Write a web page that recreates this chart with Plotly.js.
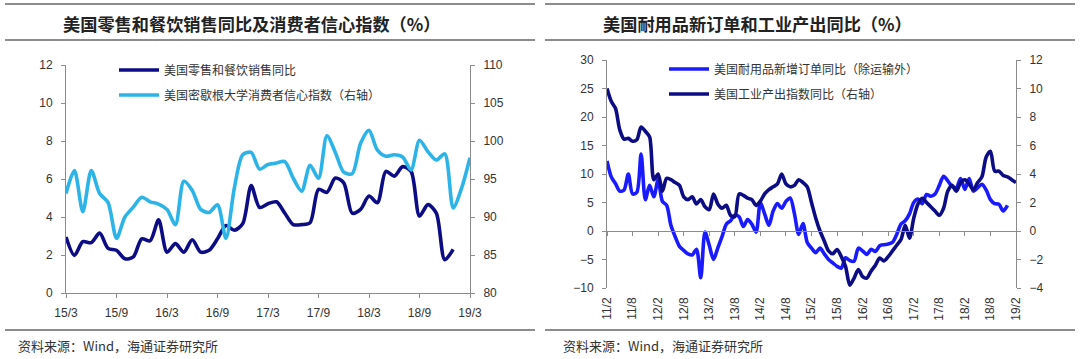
<!DOCTYPE html>
<html><head><meta charset="utf-8">
<script src="https://cdn.plot.ly/plotly-3.0.1.min.js"></script>
<style>html,body{margin:0;padding:0;background:#fff}#chart{width:1080px;height:359px}</style>
</head><body><div id="chart"></div>
<script>
function monthLabels(y, m, n) {
  const out = [];
  for (let i = 0; i < n; i++) {
    out.push(String(y % 100).padStart(2, '0') + '/' + m);
    m++; if (m > 12) { m = 1; y++; }
  }
  return out;
}
// ---- left chart data (monthly, 15/3 .. 19/3) ----
const leftMonths = monthLabels(2015, 3, 49);
const retailSales = [2.95,1.98,2.7,2.65,3.15,2.35,2.25,1.8,1.9,2.85,2.75,3.85,2.15,2.6,2.15,2.8,2.15,2.25,2.85,3.55,3.3,3.65,5.65,4.5,4.7,4.8,4.2,3.6,3.6,3.7,5.45,5.3,6.05,5.8,4.2,4.4,5.1,4.75,6.4,6.15,6.65,6.4,4.05,4.65,4.2,1.75,2.3];
const sentiment = [93.1,96.1,90.7,96.1,93.1,91.9,87.2,90.0,91.3,92.6,92.0,91.7,91.0,89.0,94.7,93.5,91.0,90.6,91.6,87.2,93.8,98.2,98.5,96.3,96.9,97.1,97.3,95.1,93.4,96.8,95.1,100.7,98.5,95.9,95.7,99.7,101.4,98.8,98.0,98.2,97.9,96.2,100.1,98.6,97.5,98.3,91.2,93.8,97.8];
const leftTicks = ['15/3','15/9','16/3','16/9','17/3','17/9','18/3','18/9','19/3'];
const leftNames = ['美国零售和餐饮销售同比','美国密歇根大学消费者信心指数（右轴）'];

// ---- right chart data (monthly, 11/2 .. 19/2) ----
const rightMonths = monthLabels(2011, 2, 97);
const durableOrders = [12.3,9.5,8.3,7.0,7.2,10.0,6.5,6.8,13.5,5.5,8.0,6.0,9.0,5.2,4.5,1.0,-1.0,-2.7,-3.4,-4.0,-4.2,-3.2,-8.2,-0.2,-2.5,-5.0,-3.0,-1.0,1.2,1.8,2.8,2.5,0.8,2.0,1.2,-0.2,5.0,3.0,1.0,3.5,4.8,4.0,5.2,5.8,3.0,-0.6,1.3,-2.0,-3.0,-3.8,-3.0,-4.0,-5.0,-5.6,-6.2,-6.5,-4.7,-5.2,-5.3,-3.0,-3.5,-4.1,-3.2,-3.6,-2.6,-2.4,-2.3,-2.0,-0.6,1.2,1.8,3.0,5.0,5.6,4.8,6.4,6.1,6.5,8.0,9.6,8.8,7.8,7.6,9.2,7.3,9.2,7.0,7.6,8.2,7.2,5.5,4.8,4.7,3.5,4.5];
const industrialOutput = [10.0,9.1,8.6,7.1,6.45,6.5,6.3,6.4,7.3,7.0,6.6,3.6,4.0,2.8,3.7,3.6,3.4,3.2,2.4,2.2,2.4,1.9,2.2,1.7,1.5,2.6,1.9,1.6,1.8,1.1,1.0,2.6,2.5,2.3,2.2,1.8,2.1,2.6,2.9,3.1,3.3,4.0,3.3,3.1,3.2,3.6,3.4,3.1,2.0,0.9,0.0,-0.7,-1.4,-1.6,-1.3,-1.8,-2.5,-3.8,-3.3,-2.7,-3.2,-3.3,-2.8,-2.4,-1.9,-2.1,-1.8,-1.4,-1.0,-0.6,0.4,-0.5,0.9,1.9,2.3,2.0,1.7,1.4,1.1,1.6,2.8,3.2,2.8,3.4,3.6,3.3,2.9,3.4,3.8,5.2,5.6,4.2,4.2,3.9,3.8,3.6,3.4];
const rightTicks = ['11/2','11/8','12/2','12/8','13/2','13/8','14/2','14/8','15/2','15/8','16/2','16/8','17/2','17/8','18/2','18/8','19/2'];
const rightNames = ['美国耐用品新增订单同比（除运输外）','美国工业产出指数同比（右轴）'];

const titles = ['美国零售和餐饮销售同比及消费者信心指数（%）','美国耐用品新订单和工业产出同比（%）'];
const sourceText = '资料来源：Wind，海通证券研究所';

const NAVY = '#0c0c84', SKY = '#2cb3e8', BLUE = '#1a1aff';
const W = 1080, H = 359;
const px = v => v / W, py = v => 1 - v / H;

const traces = [
  {x: leftMonths.slice(0, retailSales.length), y: retailSales, name: leftNames[0], type: 'scatter', mode: 'lines',
   line: {color: NAVY, width: 3.6, shape: 'spline', smoothing: 0.8}, xaxis: 'x', yaxis: 'y', legend: 'legend'},
  {x: leftMonths.slice(0, sentiment.length), y: sentiment, name: leftNames[1], type: 'scatter', mode: 'lines',
   line: {color: SKY, width: 3.6, shape: 'spline', smoothing: 0.8}, xaxis: 'x', yaxis: 'y2', legend: 'legend2'},
  {x: rightMonths.slice(0, durableOrders.length), y: durableOrders, name: rightNames[0], type: 'scatter', mode: 'lines',
   line: {color: BLUE, width: 3.6, shape: 'spline', smoothing: 0.8}, xaxis: 'x3', yaxis: 'y3', legend: 'legend3'},
  {x: rightMonths.slice(0, industrialOutput.length), y: industrialOutput, name: rightNames[1], type: 'scatter', mode: 'lines',
   line: {color: NAVY, width: 3.6, shape: 'spline', smoothing: 0.8}, xaxis: 'x3', yaxis: 'y4', legend: 'legend4'},
  // carrier for the zero-line tick axis
  {x: rightMonths, y: rightMonths.map(() => null), type: 'scatter', mode: 'lines', showlegend: false,
   hoverinfo: 'skip', xaxis: 'x4', yaxis: 'y3'}
];

const tickFont = {family: 'Liberation Sans, Arial, sans-serif', size: 12, color: '#333'};
const axisBase = {showgrid: false, zeroline: false, showline: true, linecolor: '#8c8c8c', linewidth: 1,
  ticks: 'outside', ticklen: 4, tickcolor: '#8c8c8c', tickfont: tickFont, fixedrange: true};

const leftY = [py(293), py(65)];
const rightY = [py(288), py(60)];
const zeroPos = rightY[0] + (rightY[1] - rightY[0]) * (10 / 40);

const legendFont = {family: 'Noto Sans CJK SC, sans-serif', size: 12, color: '#333'};
function leg(x, y) {
  return {x: px(x), y: py(y), xanchor: 'left', yanchor: 'middle', bgcolor: 'rgba(0,0,0,0)',
    font: legendFont, borderwidth: 0, itemwidth: 40};
}

const layout = {
  width: W, height: H, margin: {l: 0, r: 0, t: 0, b: 0},
  paper_bgcolor: '#fff', plot_bgcolor: 'rgba(0,0,0,0)',
  xaxis: Object.assign({}, axisBase, {type: 'category', categoryorder: 'array', categoryarray: leftMonths,
    range: [0, leftMonths.length - 1], domain: [px(66), px(470)], anchor: 'y',
    tickmode: 'array', tickvals: leftTicks, ticktext: leftTicks, tickangle: 0, ticklabelstandoff: 5}),
  yaxis: Object.assign({}, axisBase, {range: [0, 12], dtick: 2, domain: leftY, anchor: 'x', ticklabelstandoff: 6}),
  yaxis2: Object.assign({}, axisBase, {range: [80, 110], dtick: 5, overlaying: 'y', side: 'right', anchor: 'x', ticklabelstandoff: 6}),
  xaxis3: Object.assign({}, axisBase, {type: 'category', categoryorder: 'array', categoryarray: rightMonths,
    range: [0, rightMonths.length - 1], domain: [px(607), px(1016)], anchor: 'free', position: rightY[0],
    showline: false, ticks: '', tickmode: 'array', tickvals: rightTicks, ticktext: rightTicks, tickangle: -90, ticklabelstandoff: 6}),
  xaxis4: Object.assign({}, axisBase, {type: 'category', categoryorder: 'array', categoryarray: rightMonths,
    range: [0, rightMonths.length - 1], domain: [px(607), px(1016)], anchor: 'free', position: zeroPos,
    overlaying: 'x3', tickmode: 'array', tickvals: rightTicks, showticklabels: false}),
  yaxis3: Object.assign({}, axisBase, {range: [-10, 30], dtick: 5, domain: rightY, anchor: 'x3', ticklabelstandoff: 6}),
  yaxis4: Object.assign({}, axisBase, {range: [-4, 12], dtick: 2, overlaying: 'y3', side: 'right', anchor: 'x3', ticklabelstandoff: 6}),
  legend: leg(114, 70), legend2: leg(114, 95), legend3: leg(664, 69), legend4: leg(664, 94),
  shapes: [
    {type: 'line', xref: 'paper', yref: 'paper', x0: px(5), x1: px(535), y0: py(4), y1: py(4), line: {color: '#666', width: 1.5}},
    {type: 'line', xref: 'paper', yref: 'paper', x0: px(5), x1: px(535), y0: py(40), y1: py(40), line: {color: '#666', width: 1.5}},
    {type: 'line', xref: 'paper', yref: 'paper', x0: px(5), x1: px(535), y0: py(330), y1: py(330), line: {color: '#666', width: 1.5}},
    {type: 'line', xref: 'paper', yref: 'paper', x0: px(545), x1: px(1075), y0: py(4), y1: py(4), line: {color: '#666', width: 1.5}},
    {type: 'line', xref: 'paper', yref: 'paper', x0: px(545), x1: px(1075), y0: py(40), y1: py(40), line: {color: '#666', width: 1.5}},
    {type: 'line', xref: 'paper', yref: 'paper', x0: px(545), x1: px(1075), y0: py(330), y1: py(330), line: {color: '#666', width: 1.5}}
  ],
  annotations: [
    {text: '<b>' + titles[0] + '</b>', xref: 'paper', yref: 'paper', x: px(252), y: py(23), xanchor: 'center', yanchor: 'middle',
     showarrow: false, font: {family: 'Noto Sans CJK SC, sans-serif', size: 17.2, color: '#222'}},
    {text: '<b>' + titles[1] + '</b>', xref: 'paper', yref: 'paper', x: px(601), y: py(23), xanchor: 'left', yanchor: 'middle',
     showarrow: false, font: {family: 'Noto Sans CJK SC, sans-serif', size: 17.2, color: '#222'}},
    {text: sourceText, xref: 'paper', yref: 'paper', x: px(16), y: py(345), xanchor: 'left', yanchor: 'middle',
     showarrow: false, font: {family: 'Noto Sans CJK SC, sans-serif', size: 13, color: '#333'}},
    {text: sourceText, xref: 'paper', yref: 'paper', x: px(561), y: py(345), xanchor: 'left', yanchor: 'middle',
     showarrow: false, font: {family: 'Noto Sans CJK SC, sans-serif', size: 13, color: '#333'}}
  ]
};

Plotly.newPlot('chart', traces, layout, {displayModeBar: false, staticPlot: true});
</script></body></html>
